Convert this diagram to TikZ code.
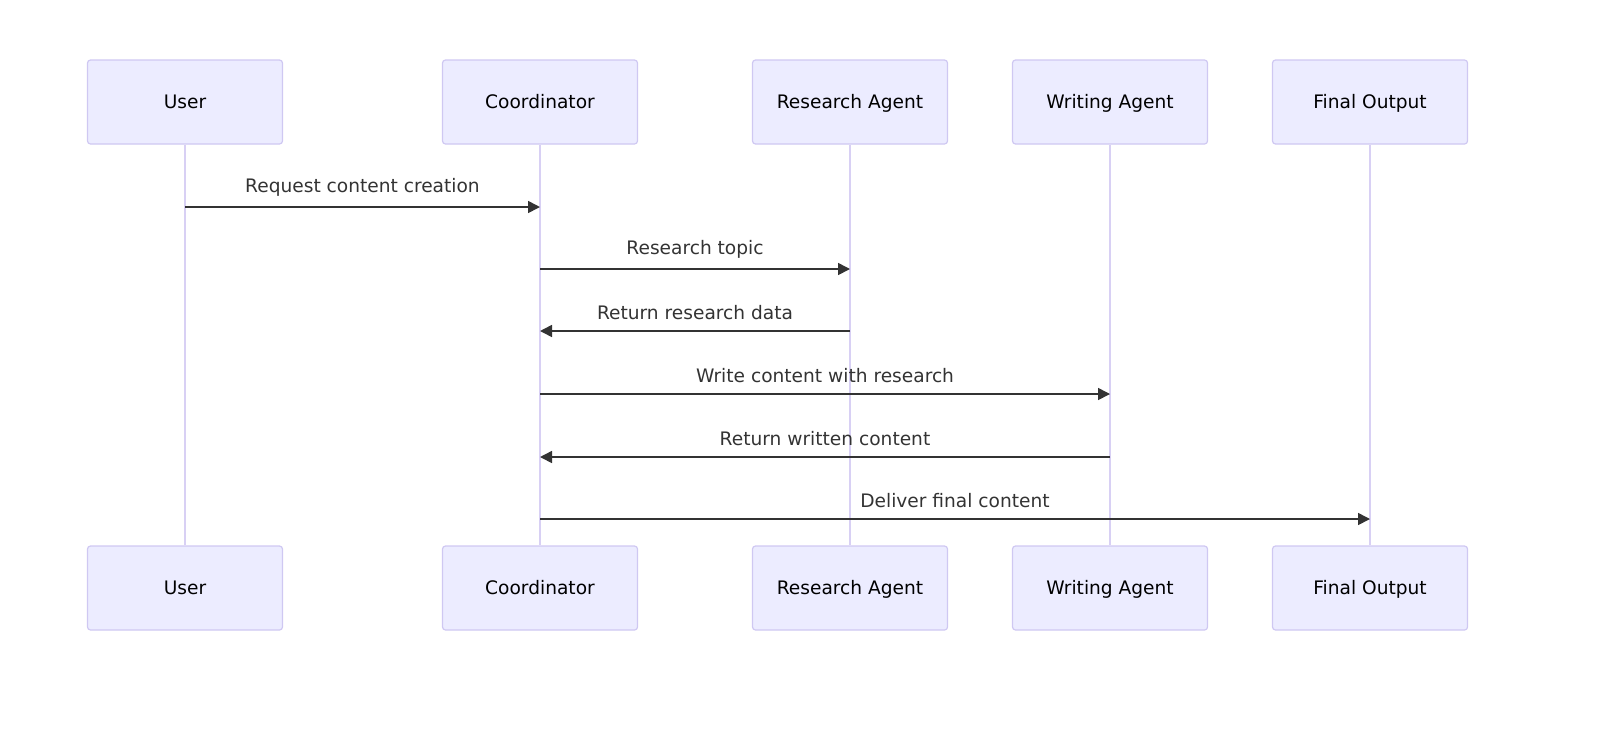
\documentclass[tikz,border=0pt]{standalone}
\usepackage{fontspec}
\setmainfont{DejaVu Sans}
\usetikzlibrary{arrows.meta,positioning}

\definecolor{actorfill}{HTML}{ECECFF}
\definecolor{actorline}{HTML}{CFC8F2}
\definecolor{lifeline}{HTML}{D8D0F4}
\definecolor{msgline}{HTML}{333333}

\tikzset{
  actor/.style={draw=actorline, fill=actorfill, rounded corners=1.5pt, line width=0.6pt,
    minimum width=97.5pt, minimum height=42pt, inner sep=0pt, text height=1.6ex, text depth=0.4ex,
    font=\fontsize{9.3}{11}\selectfont},
  life/.style={draw=lifeline, line width=1pt},
  msg/.style={draw=msgline, line width=0.8pt, -{Triangle[length=6pt,width=6pt]}},
  msglabel/.style={above=5pt, font=\fontsize{9.3}{11}\selectfont, text=msgline, inner sep=0pt}
}

\begin{document}
\begin{tikzpicture}[x=0.5pt,y=-0.5pt]

  \useasboundingbox (0,0) rectangle (1620,740);

  %% participants, top and bottom
  \foreach \name/\txt/\x in {user/User/185, coord/Coordinator/540, research/Research Agent/850,
                              writing/Writing Agent/1110, output/Final Output/1370}{
    \node[actor] (\name) at (\x,102) {\txt};
    \node[actor] (\name B) at (\x,588) {\txt};
  }

  %% lifelines
  \foreach \name in {user,coord,research,writing,output}
    \draw[life] (\name.south) -- (\name B.north);

  %% messages
  \foreach \from/\to/\y/\txt in {user/coord/207/Request content creation,
                                 coord/research/269/Research topic,
                                 research/coord/331/Return research data,
                                 coord/writing/394/Write content with research,
                                 writing/coord/457/Return written content,
                                 coord/output/519/Deliver final content}{
    \coordinate (m\y a) at (\from.south |- 0,\y);
    \coordinate (m\y b) at (\to.south |- 0,\y);
    \draw[msg] (m\y a) -- node[msglabel]{\txt} (m\y b);
  }

\end{tikzpicture}
\end{document}
